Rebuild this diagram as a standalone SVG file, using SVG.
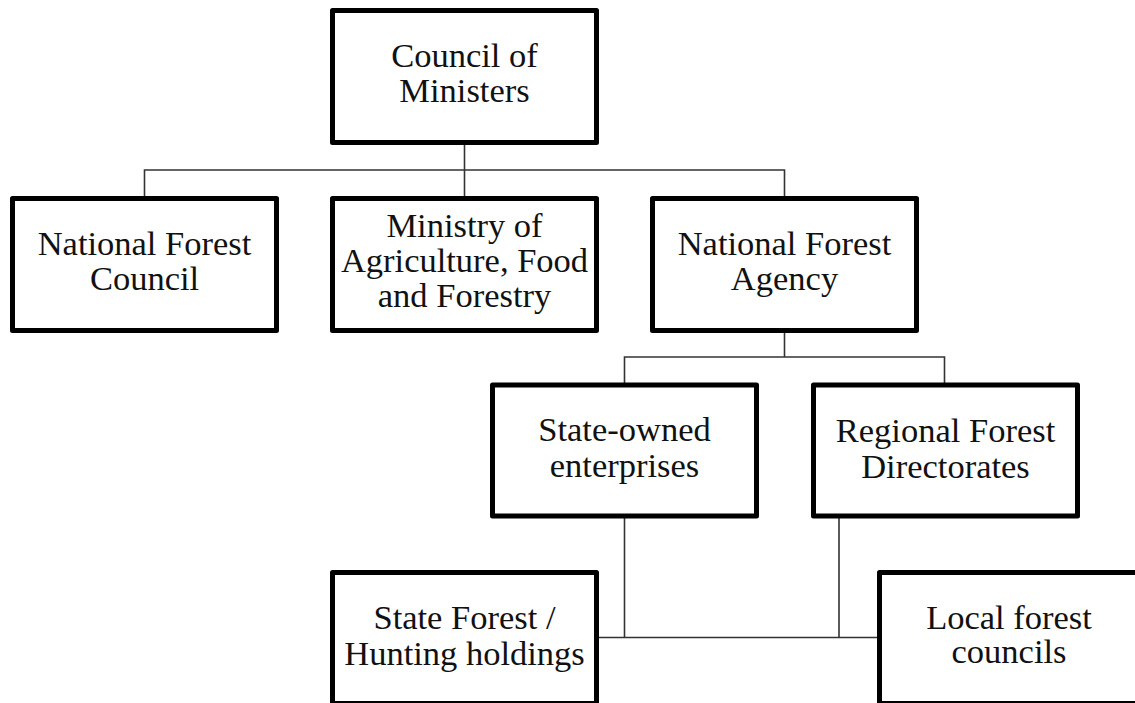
<svg xmlns="http://www.w3.org/2000/svg" width="1135" height="703" viewBox="0 0 1135 703">
<style>
.box{fill:#fff;stroke:#000;stroke-width:5;stroke-linejoin:round}
.lbl{font-family:"Liberation Serif","Times New Roman",serif;font-size:34.5px;fill:#111;text-anchor:middle}
.conn{fill:none;stroke:#333;stroke-width:1.6}
</style>
<rect width="1135" height="703" fill="#fff"/>
<g id="connectors" class="conn">
<path d="M464.5 143V198"/>
<path d="M144.5 198V170H784.5V198"/>
<path d="M784.5 330V357"/>
<path d="M624.5 385V357H944.5V385"/>
<path d="M624.5 516V637.5"/>
<path d="M839 516V637.5"/>
<path d="M597 637.5H879"/>
</g>
<g id="council">
<rect class="box" x="332.5" y="10.5" width="264" height="132"/>
<text class="lbl" x="464.5" y="66.5">Council of</text>
<text class="lbl" x="464.5" y="101.5">Ministers</text>
</g>
<g id="nfc">
<rect class="box" x="12.5" y="198.5" width="264" height="132"/>
<text class="lbl" x="144.5" y="255">National Forest</text>
<text class="lbl" x="144.5" y="290">Council</text>
</g>
<g id="ministry">
<rect class="box" x="332.5" y="198.5" width="264" height="132"/>
<text class="lbl" x="464.5" y="237">Ministry of</text>
<text class="lbl" x="464.5" y="272">Agriculture, Food</text>
<text class="lbl" x="464.5" y="306.5">and Forestry</text>
</g>
<g id="nfa">
<rect class="box" x="652.5" y="198.5" width="264" height="132"/>
<text class="lbl" x="784.5" y="255">National Forest</text>
<text class="lbl" x="784.5" y="289.5">Agency</text>
</g>
<g id="soe">
<rect class="box" x="492.5" y="385" width="264" height="131"/>
<text class="lbl" x="624.5" y="441">State-owned</text>
<text class="lbl" x="624.5" y="477">enterprises</text>
</g>
<g id="rfd">
<rect class="box" x="813.5" y="385" width="264" height="131"/>
<text class="lbl" x="945.5" y="441.5">Regional Forest</text>
<text class="lbl" x="945.5" y="477.5">Directorates</text>
</g>
<g id="sfh">
<rect class="box" x="332.5" y="572.5" width="264" height="131"/>
<text class="lbl" x="464.5" y="628.5">State Forest /</text>
<text class="lbl" x="464.5" y="665">Hunting holdings</text>
</g>
<g id="lfc">
<rect class="box" x="879.5" y="572.5" width="264" height="131"/>
<text class="lbl" x="1009" y="628.5">Local forest</text>
<text class="lbl" x="1009" y="663">councils</text>
</g>
</svg>
